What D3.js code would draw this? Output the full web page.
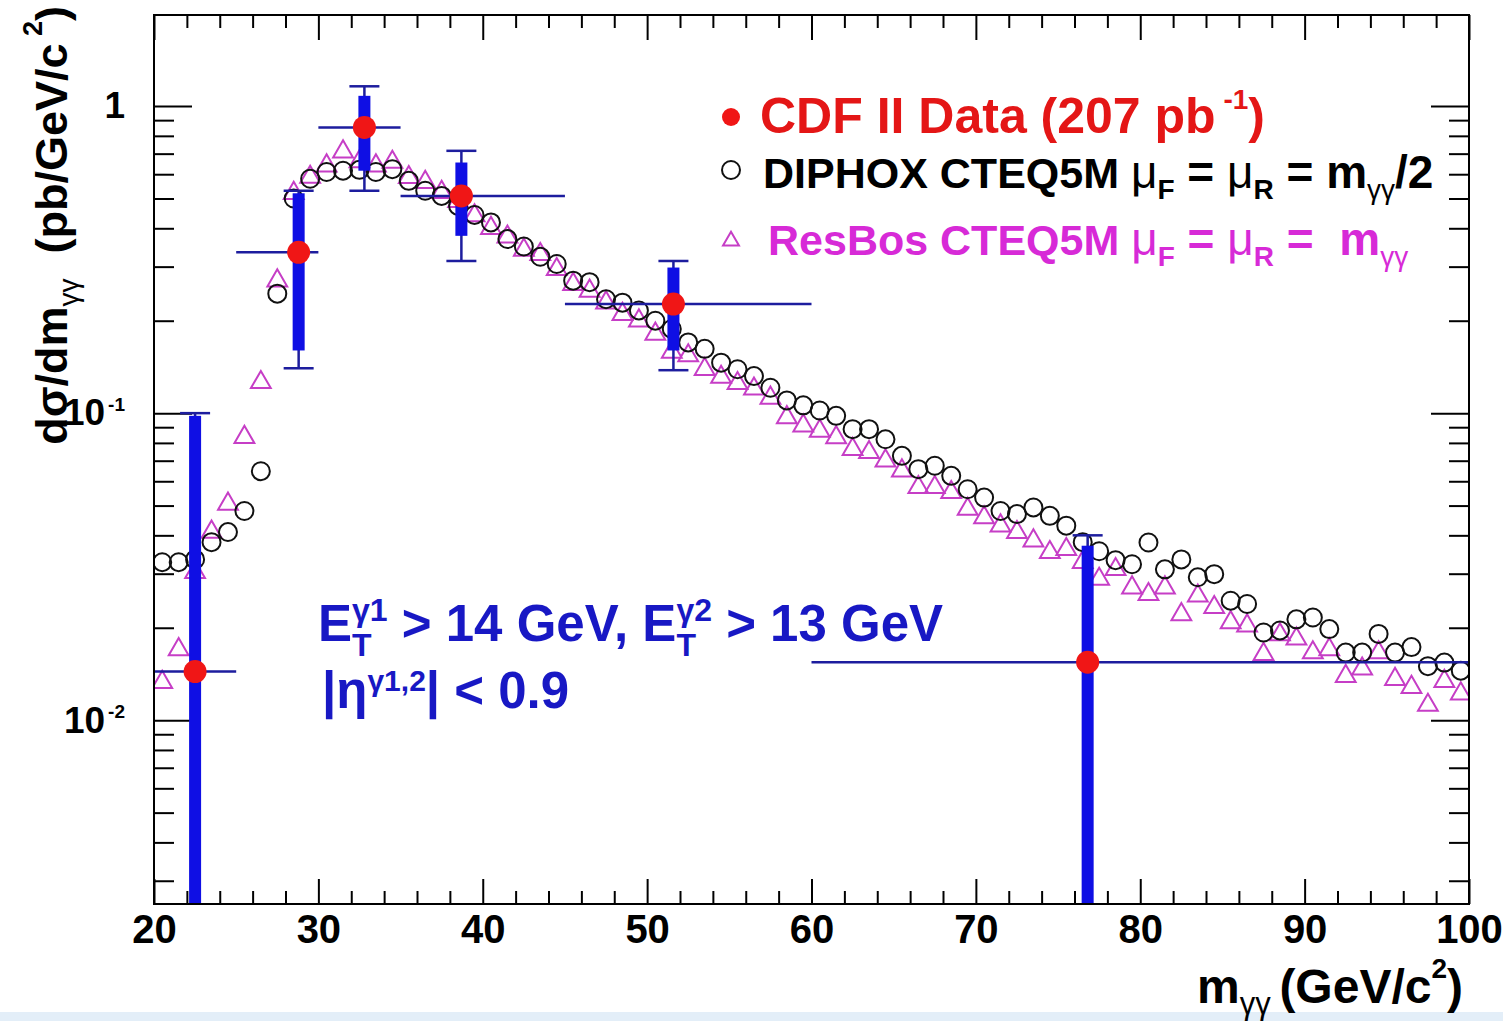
<!DOCTYPE html>
<html>
<head>
<meta charset="utf-8">
<style>
  body { margin: 0; background: #fff; }
  svg text { font-family: "Liberation Sans", Arial, Helvetica, sans-serif; font-weight: bold; white-space: pre; }
  .tick line { stroke: #000; stroke-width: 2px; }
  .xax .tick text { font-size: 40px; fill: #000; }
  .yax .tick text { font-size: 37px; fill: #000; }
</style>
</head>
<body>
<script src="https://cdn.jsdelivr.net/npm/d3@7/dist/d3.min.js"></script>
<script>
// ---- data ----
var massBins = [20.5, 21.5, 22.5, 23.5, 24.5, 25.5, 26.5, 27.5, 28.5, 29.5,
                30.5, 31.5, 32.5, 33.5, 34.5, 35.5, 36.5, 37.5, 38.5, 39.5,
                40.5, 41.5, 42.5, 43.5, 44.5, 45.5, 46.5, 47.5, 48.5, 49.5,
                50.5, 51.5, 52.5, 53.5, 54.5, 55.5, 56.5, 57.5, 58.5, 59.5,
                60.5, 61.5, 62.5, 63.5, 64.5, 65.5, 66.5, 67.5, 68.5, 69.5,
                70.5, 71.5, 72.5, 73.5, 74.5, 75.5, 76.5, 77.5, 78.5, 79.5,
                80.5, 81.5, 82.5, 83.5, 84.5, 85.5, 86.5, 87.5, 88.5, 89.5,
                90.5, 91.5, 92.5, 93.5, 94.5, 95.5, 96.5, 97.5, 98.5, 99.5];

// DIPHOX CTEQ5M, open circles
var diphox = [0.0327, 0.0327, 0.0334, 0.038, 0.041, 0.048, 0.0647, 0.245, 0.50, 0.58,
              0.61, 0.616, 0.62, 0.61, 0.623, 0.571, 0.53, 0.51, 0.473, 0.442,
              0.418, 0.369, 0.349, 0.323, 0.306, 0.27, 0.267, 0.235, 0.229, 0.216,
              0.2, 0.188, 0.17, 0.162, 0.146, 0.139, 0.132, 0.121, 0.11, 0.106,
              0.102, 0.098, 0.0887, 0.0887, 0.0822, 0.0726, 0.0657, 0.0674, 0.0625, 0.0565,
              0.0531, 0.048, 0.0469, 0.0493, 0.0463, 0.043, 0.038, 0.0355, 0.0332, 0.0322,
              0.0379, 0.031, 0.0334, 0.0292, 0.0299, 0.0245, 0.0239, 0.0193, 0.0196, 0.0213,
              0.0216, 0.0198, 0.0166, 0.0166, 0.0191, 0.0166, 0.0173, 0.015, 0.0154, 0.0145];

// ResBos CTEQ5M, open triangles
var resbos = [0.0133, 0.0170, 0.0303, 0.041, 0.0506, 0.0835, 0.126, 0.27, 0.52, 0.587,
              0.639, 0.71, 0.66, 0.639, 0.657, 0.586, 0.565, 0.524, 0.49, 0.44,
              0.40, 0.375, 0.34, 0.329, 0.294, 0.263, 0.25, 0.229, 0.21, 0.2,
              0.181, 0.158, 0.154, 0.139, 0.131, 0.125, 0.12, 0.112, 0.0968, 0.091,
              0.0875, 0.0833, 0.0763, 0.0745, 0.07, 0.0649, 0.0573, 0.0573, 0.0552, 0.0487,
              0.0457, 0.043, 0.0409, 0.0384, 0.0352, 0.036, 0.0327, 0.0288, 0.031, 0.027,
              0.0257, 0.027, 0.0221, 0.0254, 0.0233, 0.0208, 0.0203, 0.0164, 0.019, 0.0184,
              0.0166, 0.017, 0.0139, 0.0147, 0.0166, 0.0136, 0.0128, 0.0112, 0.0134, 0.0122];

// CDF II data
var cdfMass   = [22.5, 28.8, 32.8, 38.7, 51.6, 76.8];
var cdfBinLo  = [20, 25, 30, 35, 45, 60];
var cdfBinHi  = [25, 30, 35, 45, 60, 100];
var cdfXsec   = [0.0144, 0.334, 0.852, 0.51, 0.2265, 0.01545];
var cdfStatLo = [0.001, 0.16, 0.616, 0.378, 0.16, 0.001];
var cdfStatHi = [0.098, 0.52, 1.08, 0.655, 0.298, 0.037];
var cdfTotLo  = [0.001, 0.14, 0.53, 0.313, 0.138, 0.001];
var cdfTotHi  = [0.1, 0.53, 1.16, 0.715, 0.313, 0.04];

// ticks
var xMajor = [20, 30, 40, 50, 60, 70, 80, 90, 100];
var xMinor = [22, 24, 26, 28, 32, 34, 36, 38, 42, 44, 46, 48, 52, 54, 56, 58,
              62, 64, 66, 68, 72, 74, 76, 78, 82, 84, 86, 88, 92, 94, 96, 98];
var yMajor = [0.01, 0.1, 1];
var yLabelBase = ["10", "10", "1"];
var yLabelExp  = ["-2", "-1", ""];
var yMinor = [0.003, 0.004, 0.005, 0.006, 0.007, 0.008, 0.009,
              0.02, 0.03, 0.04, 0.05, 0.06, 0.07, 0.08, 0.09,
              0.2, 0.3, 0.4, 0.5, 0.6, 0.7, 0.8, 0.9];

// ---- layout ----
var W = 1503, H = 1021;
var plot = { left: 154, right: 1469, top: 15, bottom: 904 };

var x = d3.scaleLinear().domain([20, 100]).range([plot.left, plot.right]);
var y = d3.scaleLog().domain([0.00252, 1.98]).range([plot.bottom, plot.top]);

var svg = d3.select("body").append("svg")
    .attr("width", W)
    .attr("height", H);

svg.append("rect").attr("width", W).attr("height", H).attr("fill", "#fff");
svg.append("rect")  // light strip at the bottom of the slide
    .attr("x", 0).attr("y", 1012).attr("width", W).attr("height", 9)
    .attr("fill", "#e3eef8");

svg.append("defs").append("clipPath").attr("id", "plotclip")
  .append("rect")
    .attr("x", plot.left).attr("y", plot.top)
    .attr("width", plot.right - plot.left).attr("height", plot.bottom - plot.top);

// ---- axes (ticks point inwards, ROOT style) ----
function noDomain(g) { g.select(".domain").remove(); }

svg.append("g").classed("xax", true)
    .attr("transform", "translate(0," + plot.bottom + ")")
    .call(d3.axisBottom(x).tickValues(xMajor).tickSize(-25).tickPadding(11).tickFormat(d3.format("d")))
    .call(noDomain);
svg.append("g").classed("xax", true)
    .attr("transform", "translate(0," + plot.bottom + ")")
    .call(d3.axisBottom(x).tickValues(xMinor).tickSize(-13).tickFormat(""))
    .call(noDomain);
svg.append("g")
    .attr("transform", "translate(0," + plot.top + ")")
    .call(d3.axisTop(x).tickValues(xMajor).tickSize(-25).tickFormat(""))
    .call(noDomain);
svg.append("g")
    .attr("transform", "translate(0," + plot.top + ")")
    .call(d3.axisTop(x).tickValues(xMinor).tickSize(-13).tickFormat(""))
    .call(noDomain);

var yax = svg.append("g").classed("yax", true)
    .attr("transform", "translate(" + plot.left + ",0)")
    .call(d3.axisLeft(y).tickValues(yMajor).tickSize(-38).tickPadding(29)
            .tickFormat(function (d, i) { return yLabelBase[i]; }))
    .call(noDomain);
yax.selectAll(".tick text").each(function (d, i) {
  if (yLabelExp[i]) {
    d3.select(this).append("tspan")
        .attr("dx", 3)
        .attr("dy", "-0.75em")
        .style("font-size", "19px")
        .text(yLabelExp[i]);
  }
});
svg.append("g")
    .attr("transform", "translate(" + plot.left + ",0)")
    .call(d3.axisLeft(y).tickValues(yMinor).tickSize(-20).tickFormat(""))
    .call(noDomain);
svg.append("g")
    .attr("transform", "translate(" + plot.right + ",0)")
    .call(d3.axisRight(y).tickValues(yMajor).tickSize(-38).tickFormat(""))
    .call(noDomain);
svg.append("g")
    .attr("transform", "translate(" + plot.right + ",0)")
    .call(d3.axisRight(y).tickValues(yMinor).tickSize(-20).tickFormat(""))
    .call(noDomain);

// ---- theory points ----
var area = svg.append("g").attr("clip-path", "url(#plotclip)");

var magenta = "#c63ec6";
var tri = d3.symbol().type(d3.symbolTriangle).size(170);

area.selectAll("path.resbos")
  .data(massBins)
  .join("path")
    .classed("resbos", true)
    .attr("transform", function (d, i) { return "translate(" + x(d) + "," + y(resbos[i]) + ")"; })
    .attr("d", tri)
    .attr("fill", "none")
    .attr("stroke", magenta)
    .attr("stroke-width", 2);

area.selectAll("circle.diphox")
  .data(massBins)
  .join("circle")
    .classed("diphox", true)
    .attr("cx", function (d) { return x(d); })
    .attr("cy", function (d, i) { return y(diphox[i]); })
    .attr("r", 9)
    .attr("fill", "none")
    .attr("stroke", "#111")
    .attr("stroke-width", 2);

// ---- CDF data with errors ----
var thinBlue = "#1d1d9e", thickBlue = "#0f0fe4";
var idx = d3.range(cdfMass.length);

area.selectAll("line.xerr").data(idx).join("line")
    .attr("x1", function (i) { return x(cdfBinLo[i]); })
    .attr("x2", function (i) { return x(cdfBinHi[i]); })
    .attr("y1", function (i) { return y(cdfXsec[i]); })
    .attr("y2", function (i) { return y(cdfXsec[i]); })
    .attr("stroke", thinBlue).attr("stroke-width", 2.5);

area.selectAll("line.toterr").data(idx).join("line")
    .attr("x1", function (i) { return x(cdfMass[i]); })
    .attr("x2", function (i) { return x(cdfMass[i]); })
    .attr("y1", function (i) { return y(cdfTotLo[i]); })
    .attr("y2", function (i) { return y(cdfTotHi[i]); })
    .attr("stroke", thinBlue).attr("stroke-width", 2.5);

["hi", "lo"].forEach(function (side) {
  area.selectAll("line.cap" + side).data(idx).join("line")
      .attr("x1", function (i) { return x(cdfMass[i]) - 15; })
      .attr("x2", function (i) { return x(cdfMass[i]) + 15; })
      .attr("y1", function (i) { return y(side === "hi" ? cdfTotHi[i] : cdfTotLo[i]); })
      .attr("y2", function (i) { return y(side === "hi" ? cdfTotHi[i] : cdfTotLo[i]); })
      .attr("stroke", thinBlue).attr("stroke-width", 2.5);
});

area.selectAll("rect.staterr").data(idx).join("rect")
    .attr("x", function (i) { return x(cdfMass[i]) - 6; })
    .attr("width", 12)
    .attr("y", function (i) { return y(cdfStatHi[i]); })
    .attr("height", function (i) { return y(cdfStatLo[i]) - y(cdfStatHi[i]); })
    .attr("fill", thickBlue);

area.selectAll("circle.cdf").data(idx).join("circle")
    .attr("cx", function (i) { return x(cdfMass[i]); })
    .attr("cy", function (i) { return y(cdfXsec[i]); })
    .attr("r", 11.5)
    .attr("fill", "#f01616");

// frame
svg.append("rect")
    .attr("x", plot.left).attr("y", plot.top)
    .attr("width", plot.right - plot.left).attr("height", plot.bottom - plot.top)
    .attr("fill", "none").attr("stroke", "#000").attr("stroke-width", 2);

// ---- rich text helper: runs of {t, fs, s (baseline shift), w, back} ----
function runs(textSel, list) {
  var shift = 0, prev = null;
  list.forEach(function (r) {
    var s = r.s || 0;
    var ts = textSel.append("tspan")
        .attr("dy", s - shift)
        .style("font-size", r.fs + "px")
        .style("font-weight", r.w || "bold")
        .text(r.t);
    if (r.back && prev) ts.attr("dx", -prev.node().getComputedTextLength());
    shift = s;
    prev = ts;
  });
}

// axis titles
var xt = svg.append("text").attr("x", 1463).attr("y", 1003).attr("text-anchor", "end").attr("fill", "#000");
runs(xt, [
  { t: "m", fs: 48 },
  { t: "\u03b3\u03b3 ", fs: 31, s: 11, w: "normal" },
  { t: "(GeV/c", fs: 48 },
  { t: "2", fs: 28, s: -25 },
  { t: ")", fs: 48 }
]);

var yt = svg.append("text")
    .attr("transform", "translate(67,6) rotate(-90)")
    .attr("text-anchor", "end").attr("fill", "#000");
runs(yt, [
  { t: "d\u03c3/dm", fs: 45 },
  { t: "\u03b3\u03b3", fs: 28, s: 11, w: "normal" },
  { t: "  (pb/GeV/c", fs: 45 },
  { t: " 2", fs: 27, s: -25 },
  { t: ")", fs: 45 }
]);

// ---- legend ----
svg.append("circle").attr("cx", 731).attr("cy", 117).attr("r", 9).attr("fill", "#f01616");
svg.append("circle").attr("cx", 731).attr("cy", 170).attr("r", 9)
    .attr("fill", "none").attr("stroke", "#111").attr("stroke-width", 2);
svg.append("path").attr("transform", "translate(731,241)").attr("d", d3.symbol().type(d3.symbolTriangle).size(110))
    .attr("fill", "none").attr("stroke", magenta).attr("stroke-width", 2);

var l1 = svg.append("text").attr("x", 760).attr("y", 133).attr("fill", "#e41616");
runs(l1, [
  { t: "CDF II Data (207 pb", fs: 50 },
  { t: " -1", fs: 28, s: -24 },
  { t: ")", fs: 50 }
]);

var l2 = svg.append("text").attr("x", 763).attr("y", 188).attr("fill", "#000");
runs(l2, [
  { t: "DIPHOX CTEQ5M ", fs: 43 },
  { t: "\u03bc", fs: 46, w: "normal" },
  { t: "F", fs: 28, s: 11 },
  { t: " = ", fs: 46 },
  { t: "\u03bc", fs: 46, w: "normal" },
  { t: "R", fs: 28, s: 11 },
  { t: " = m", fs: 46 },
  { t: "\u03b3\u03b3", fs: 28, s: 11, w: "normal" },
  { t: "/2", fs: 46 }
]);

var l3 = svg.append("text").attr("x", 768).attr("y", 255).attr("fill", "#d72ad7");
runs(l3, [
  { t: "ResBos CTEQ5M ", fs: 43 },
  { t: "\u03bc", fs: 46, w: "normal" },
  { t: "F", fs: 28, s: 11 },
  { t: " = ", fs: 46 },
  { t: "\u03bc", fs: 46, w: "normal" },
  { t: "R", fs: 28, s: 11 },
  { t: " =  m", fs: 46 },
  { t: "\u03b3\u03b3", fs: 28, s: 11, w: "normal" }
]);

// ---- cut annotation ----
var annBlue = "#1818c4";
var a1 = svg.append("text").attr("x", 318).attr("y", 641).attr("fill", annBlue);
runs(a1, [
  { t: "E", fs: 51 },
  { t: "T", fs: 32, s: 15 },
  { t: "\u03b31", fs: 32, s: -20, back: true },
  { t: " > 14 GeV, E", fs: 51 },
  { t: "T", fs: 32, s: 15 },
  { t: "\u03b32", fs: 32, s: -20, back: true },
  { t: " > 13 GeV", fs: 51 }
]);

var a2 = svg.append("text").attr("x", 322).attr("y", 708).attr("fill", annBlue);
runs(a2, [
  { t: "|\u03b7", fs: 51 },
  { t: "\u03b31,2", fs: 30, s: -17 },
  { t: "| < 0.9", fs: 51 }
]);
</script>
</body>
</html>
